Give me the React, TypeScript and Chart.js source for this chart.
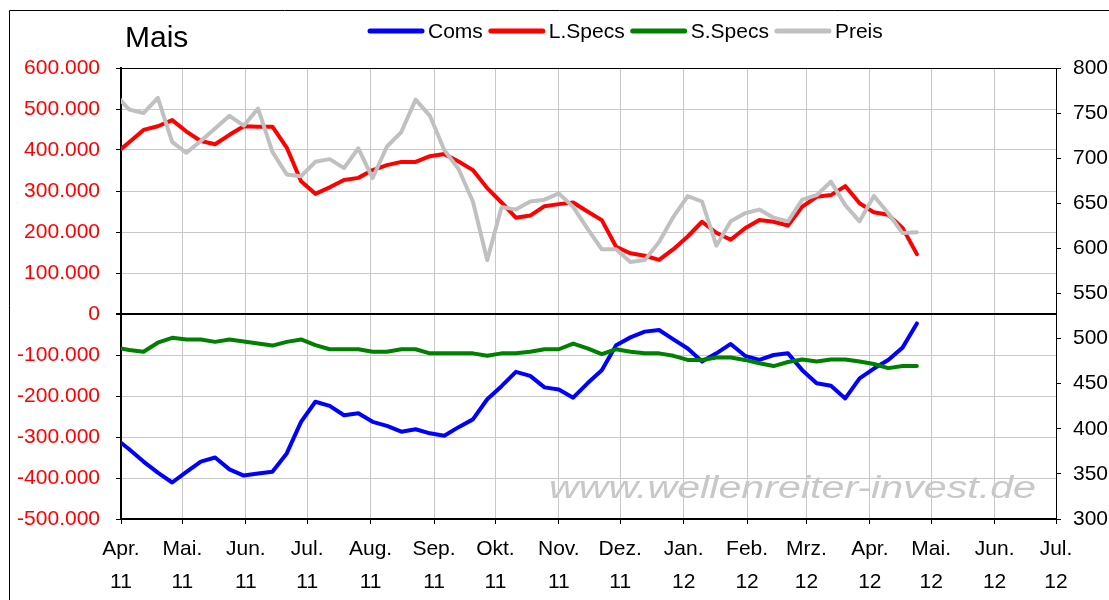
import React, { useEffect, useRef } from "react";
import { Chart, registerables } from "chart.js";

Chart.register(...registerables);

// Weekly report dates (Tuesdays)
const weekDates = [
  "2011-03-29", "2011-04-05", "2011-04-12", "2011-04-19", "2011-04-26",
  "2011-05-03", "2011-05-10", "2011-05-17", "2011-05-24", "2011-05-31",
  "2011-06-07", "2011-06-14", "2011-06-21", "2011-06-28",
  "2011-07-05", "2011-07-12", "2011-07-19", "2011-07-26",
  "2011-08-02", "2011-08-09", "2011-08-16", "2011-08-23", "2011-08-30",
  "2011-09-06", "2011-09-13", "2011-09-20", "2011-09-27",
  "2011-10-04", "2011-10-11", "2011-10-18", "2011-10-25",
  "2011-11-01", "2011-11-08", "2011-11-15", "2011-11-22", "2011-11-29",
  "2011-12-06", "2011-12-13", "2011-12-20", "2011-12-27",
  "2012-01-03", "2012-01-10", "2012-01-17", "2012-01-24", "2012-01-31",
  "2012-02-07", "2012-02-14", "2012-02-21", "2012-02-28",
  "2012-03-06", "2012-03-13", "2012-03-20", "2012-03-27",
  "2012-04-03", "2012-04-10", "2012-04-17", "2012-04-24",
];

const coms = [
  -302000, -330000, -360000, -387000, -411000,
  -385000, -360000, -350000, -379000, -394000,
  -389000, -385000, -340000, -263000,
  -214000, -224000, -247000, -242000,
  -263000, -273000, -287000, -281000, -291000,
  -297000, -276000, -257000, -208000,
  -176000, -141000, -151000, -179000,
  -184000, -204000, -169000, -137000, -76000,
  -57000, -43000, -39000, -62000,
  -84000, -116000, -96000, -73000, -102000,
  -112000, -100000, -96000, -137000,
  -169000, -175000, -206000, -157000,
  -133000, -112000, -82000, -23000,
];

const longSpecs = [
  389000, 419000, 449000, 458000, 473000,
  445000, 422000, 414000, 437000, 458000,
  457000, 457000, 406000, 324000,
  293000, 309000, 327000, 332000,
  351000, 363000, 371000, 371000, 385000,
  390000, 372000, 351000, 307000,
  272000, 235000, 240000, 263000,
  268000, 272000, 250000, 229000, 164000,
  148000, 142000, 132000, 158000,
  189000, 225000, 198000, 181000, 209000,
  229000, 225000, 216000, 262000,
  286000, 290000, 312000, 270000,
  248000, 242000, 210000, 146000,
];

const shortSpecs = [
  -81000, -88000, -92000, -70000, -58000,
  -62000, -62000, -68000, -62000, -67000,
  -72000, -77000, -68000, -62000,
  -76000, -86000, -86000, -86000,
  -92000, -92000, -86000, -86000, -96000,
  -96000, -96000, -96000, -102000,
  -96000, -96000, -92000, -86000,
  -86000, -72000, -84000, -98000, -86000,
  -92000, -96000, -96000, -102000,
  -112000, -112000, -106000, -106000, -112000,
  -120000, -127000, -117000, -111000,
  -116000, -111000, -111000, -116000,
  -122000, -132000, -127000, -127000,
];

const price = [
  771, 754, 750, 767, 718,
  706, 719, 733, 747, 736,
  755, 707, 682, 680,
  696, 699, 689, 711,
  678, 713, 729, 765, 747,
  709, 688, 652, 587,
  646, 643, 652, 654,
  661, 646, 622, 599, 599,
  585, 587, 607, 635,
  658, 652, 603, 630, 639,
  643, 634, 630, 654,
  659, 674, 648, 630,
  658, 639, 617, 618,
];

const monthStarts = [
  "2011-04-01", "2011-05-01", "2011-06-01", "2011-07-01", "2011-08-01",
  "2011-09-01", "2011-10-01", "2011-11-01", "2011-12-01", "2012-01-01",
  "2012-02-01", "2012-03-01", "2012-04-01", "2012-05-01", "2012-06-01",
  "2012-07-01",
];
const monthLabels = [
  "Apr.", "Mai.", "Jun.", "Jul.", "Aug.", "Sep.", "Okt.", "Nov.",
  "Dez.", "Jan.", "Feb.", "Mrz.", "Apr.", "Mai.", "Jun.", "Jul.",
];
const yearLabels = [
  "11", "11", "11", "11", "11", "11", "11", "11",
  "11", "12", "12", "12", "12", "12", "12", "12",
];

const seriesNames = ["Coms", "L.Specs", "S.Specs", "Preis"];
const seriesColors = ["#0000ff", "#ff0000", "#008000", "#c0c0c0"];
const chartTitle = "Mais";
const watermark = "www.wellenreiter-invest.de";

const FONT = "'Liberation Sans', Arial, Helvetica, sans-serif";
const ORIGIN = Date.parse("2011-04-01T00:00:00Z");
const dayOf = (s: string) => Math.round((Date.parse(s + "T00:00:00Z") - ORIGIN) / 86400000);

const fmtThousands = (v: number) => {
  if (v === 0) return "0";
  const s = String(Math.abs(Math.round(v))).replace(/\B(?=(\d{3})+(?!\d))/g, ".");
  return (v < 0 ? "-" : "") + s;
};

const decorPlugin = {
  id: "decor",
  beforeDatasetsDraw(chart: any) {
    const ctx = chart.ctx;
    ctx.save();
    ctx.font = `italic 31px ${FONT}`;
    ctx.fillStyle = "#c8c8c8";
    ctx.textBaseline = "alphabetic";
    const w = ctx.measureText(watermark).width;
    ctx.translate(549, 498);
    ctx.scale(487 / w, 1);
    ctx.fillText(watermark, 0, 0);
    ctx.restore();
  },
  afterDraw(chart: any) {
    const ctx = chart.ctx;
    ctx.save();
    // outer frame
    ctx.strokeStyle = "#000";
    ctx.lineWidth = 1;
    ctx.beginPath();
    ctx.moveTo(9.5, 600);
    ctx.lineTo(9.5, 10.5);
    ctx.lineTo(1109, 10.5);
    ctx.stroke();
    // title
    ctx.fillStyle = "#000";
    ctx.font = `30px ${FONT}`;
    ctx.textBaseline = "alphabetic";
    ctx.textAlign = "left";
    ctx.fillText(chartTitle, 125, 47);
    // legend
    ctx.font = `21px ${FONT}`;
    ctx.textBaseline = "middle";
    let x = 368;
    const y = 31;
    seriesNames.forEach((name, i) => {
      ctx.strokeStyle = seriesColors[i];
      ctx.lineWidth = 5;
      ctx.lineCap = "round";
      ctx.beginPath();
      ctx.moveTo(x + 2, y);
      ctx.lineTo(x + 54, y);
      ctx.stroke();
      ctx.fillStyle = "#000";
      ctx.fillText(name, x + 60, y + 1);
      x = x + 60 + ctx.measureText(name).width + 6;
    });
    ctx.restore();
  },
};

export default function App() {
  const canvasRef = useRef<HTMLCanvasElement | null>(null);

  useEffect(() => {
    if (!canvasRef.current) return;
    const days = weekDates.map(dayOf);
    const monthDays = monthStarts.map(dayOf);
    const mk = (vals: number[]) => vals.map((v, i) => ({ x: days[i], y: v }));
    const common = {
      pointRadius: 0,
      pointHoverRadius: 0,
      borderWidth: 4,
      borderJoinStyle: "round" as const,
      borderCapStyle: "round" as const,
      tension: 0,
      fill: false,
      clip: 0,
    };
    const chart = new Chart(canvasRef.current, {
      type: "line",
      data: {
        datasets: [
          { ...common, label: seriesNames[0], data: mk(coms), borderColor: seriesColors[0], yAxisID: "y", order: 4 },
          { ...common, label: seriesNames[1], data: mk(longSpecs), borderColor: seriesColors[1], yAxisID: "y", order: 3 },
          { ...common, label: seriesNames[2], data: mk(shortSpecs), borderColor: seriesColors[2], yAxisID: "y", order: 2 },
          { ...common, label: seriesNames[3], data: mk(price), borderColor: seriesColors[3], yAxisID: "y1", order: 1 },
        ],
      },
      options: {
        animation: false,
        responsive: false,
        devicePixelRatio: 1,
        events: [],
        layout: { padding: { top: 68, left: 0, right: 0, bottom: 0 } },
        plugins: {
          legend: { display: false },
          title: { display: false },
          tooltip: { enabled: false },
        },
        scales: {
          x: {
            type: "linear",
            min: monthDays[0],
            max: monthDays[monthDays.length - 1],
            afterBuildTicks: (s: any) => {
              s.ticks = monthDays.map((v) => ({ value: v }));
            },
            afterFit: (s: any) => {
              s.height = 81;
            },
            grid: { color: "#c8c8c8", lineWidth: 1, drawTicks: true, tickLength: 5, tickColor: "#000" },
            border: { color: "#000", width: 2 },
            ticks: {
              autoSkip: false,
              maxRotation: 0,
              minRotation: 0,
              padding: 8,
              color: "#000",
              font: { family: FONT, size: 21, lineHeight: 1.6 },
              callback: (_v: any, i: number) => [monthLabels[i], yearLabels[i]],
            },
          },
          y: {
            type: "linear",
            position: "left",
            min: -500000,
            max: 600000,
            afterFit: (s: any) => {
              s.width = 121;
            },
            grid: {
              color: (c: any) =>
                c.tick && (c.tick.value === 0 || c.tick.value === 600000) ? "#000" : "#c8c8c8",
              lineWidth: (c: any) => (c.tick && c.tick.value === 0 ? 2 : 1),
              drawTicks: true,
              tickLength: 5,
              tickColor: "#000",
            },
            border: { color: "#000", width: 2 },
            ticks: {
              stepSize: 100000,
              padding: 16,
              color: "#ff0000",
              font: { family: FONT, size: 21 },
              callback: (v: any) => fmtThousands(Number(v)),
            },
          },
          y1: {
            type: "linear",
            position: "right",
            min: 300,
            max: 800,
            afterFit: (s: any) => {
              s.width = 53;
            },
            grid: { drawOnChartArea: false, drawTicks: true, tickLength: 5, tickColor: "#000" },
            border: { color: "#000", width: 1 },
            ticks: {
              stepSize: 50,
              padding: 12,
              color: "#000",
              font: { family: FONT, size: 21 },
            },
          },
        },
      },
      plugins: [decorPlugin],
    });
    return () => chart.destroy();
  }, []);

  return (
    <div style={{ position: "absolute", left: 0, top: 0, width: 1109, height: 600, background: "#fff" }}>
      <canvas ref={canvasRef} width={1109} height={600} style={{ display: "block" }} />
    </div>
  );
}
